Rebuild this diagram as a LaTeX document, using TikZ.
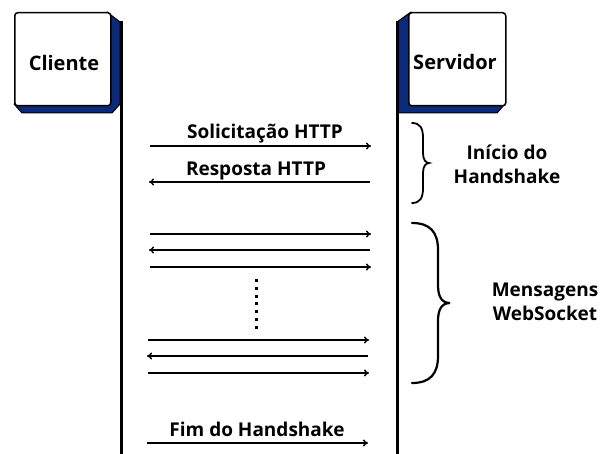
\documentclass[tikz,border=0pt]{standalone}
\usepackage{fontspec}
\setmainfont{Open Sans}
\usetikzlibrary{arrows.meta}
\definecolor{navy}{RGB}{12,42,122}
\begin{document}
\begin{tikzpicture}[x=1pt,y=-1pt,
  lbl/.style={font=\bfseries\fontsize{19}{24}\selectfont, inner sep=0pt},
  hdr/.style={font=\bfseries\fontsize{20}{24}\selectfont, inner sep=0pt},
  msg/.style={line width=1.5pt,-{To[length=5pt,width=7pt]}},
  life/.style={line width=3pt},
  shade/.style={fill=navy, draw=black, line width=1pt, line join=round},
  boxw/.style={fill=white, draw=black, line width=1.5pt, rounded corners=3pt},
  bracel/.style={line width=1.8pt, line cap=round}]
\useasboundingbox[fill=white] (0,0) rectangle (600,454);
% Cliente
\draw[shade] (107,12) -- (120,22) -- (120,104) -- (112,113) -- (22,113) -- (14,104) -- cycle;
\node[boxw, minimum width=96pt, minimum height=93pt, anchor=north west] (cli) at (14,12) {};
\node[hdr] (clit) at (64,63) {Cliente};
\coordinate (cliA) at (121,21);
\coordinate (cliB) at (121,454);
\draw[life] (cliA) -- (cliB);
% Servidor
\draw[shade] (411,12) -- (397,22) -- (397,113) -- (497,113) -- (505,104) -- cycle;
\node[boxw, minimum width=97pt, minimum height=93pt, anchor=north west] (srv) at (408,12) {};
\node[hdr] (srvt) at (455,62) {Servidor};
\coordinate (srvA) at (397,21);
\coordinate (srvB) at (397,454);
\draw[life] (srvA) -- (srvB);
% HTTP
\coordinate (a1s) at (150,146); \coordinate (a1e) at (371,146);
\draw[msg] (a1s) -- (a1e);
\node[lbl] (l1) at (265,134) {Solicitação HTTP};
\coordinate (a2s) at (370,182); \coordinate (a2e) at (149,182);
\draw[msg] (a2s) -- (a2e);
\node[lbl] (l2) at (256,171) {Resposta HTTP};
% WebSocket messages
\coordinate (m1s) at (150,234); \coordinate (m1e) at (371,234);
\coordinate (m2s) at (370,250); \coordinate (m2e) at (149,250);
\coordinate (m3s) at (150,267); \coordinate (m3e) at (371,267);
\coordinate (m4s) at (148,340); \coordinate (m4e) at (369,340);
\coordinate (m5s) at (368,356); \coordinate (m5e) at (147,356);
\coordinate (m6s) at (148,373); \coordinate (m6e) at (369,373);
\draw[msg] (m1s) -- (m1e);
\draw[msg] (m2s) -- (m2e);
\draw[msg] (m3s) -- (m3e);
\draw[msg] (m4s) -- (m4e);
\draw[msg] (m5s) -- (m5e);
\draw[msg] (m6s) -- (m6e);
\coordinate (d1) at (256,279); \coordinate (d2) at (256,330);
\draw[line width=3pt, dash pattern=on 3pt off 4.8pt] (d1) -- (d2);
% Fim
\coordinate (f1s) at (147,443); \coordinate (f1e) at (368,443);
\draw[msg] (f1s) -- (f1e);
\node[lbl] (l3) at (257,429) {Fim do Handshake};
% braces
\draw[bracel] (412,123) .. controls (420,123) and (423,128) .. (423,138) -- (423,153)
  .. controls (423,160) and (426,163) .. (429,163)
  .. controls (426,163) and (423,166) .. (423,173) -- (423,188)
  .. controls (423,198) and (420,203) .. (412,203);
\node[lbl, align=center] (b1) at (507,164) {Início do\\Handshake};
\draw[bracel, line width=2.2pt] (412,223) .. controls (430,223) and (438,232) .. (438,250) -- (438,285)
  .. controls (438,297) and (442,303) .. (450,303)
  .. controls (442,303) and (438,309) .. (438,321) -- (438,356)
  .. controls (438,374) and (430,383) .. (412,383);
\node[lbl, align=center] (b2) at (545,302) {Mensagens\\WebSocket};
\end{tikzpicture}
\end{document}
